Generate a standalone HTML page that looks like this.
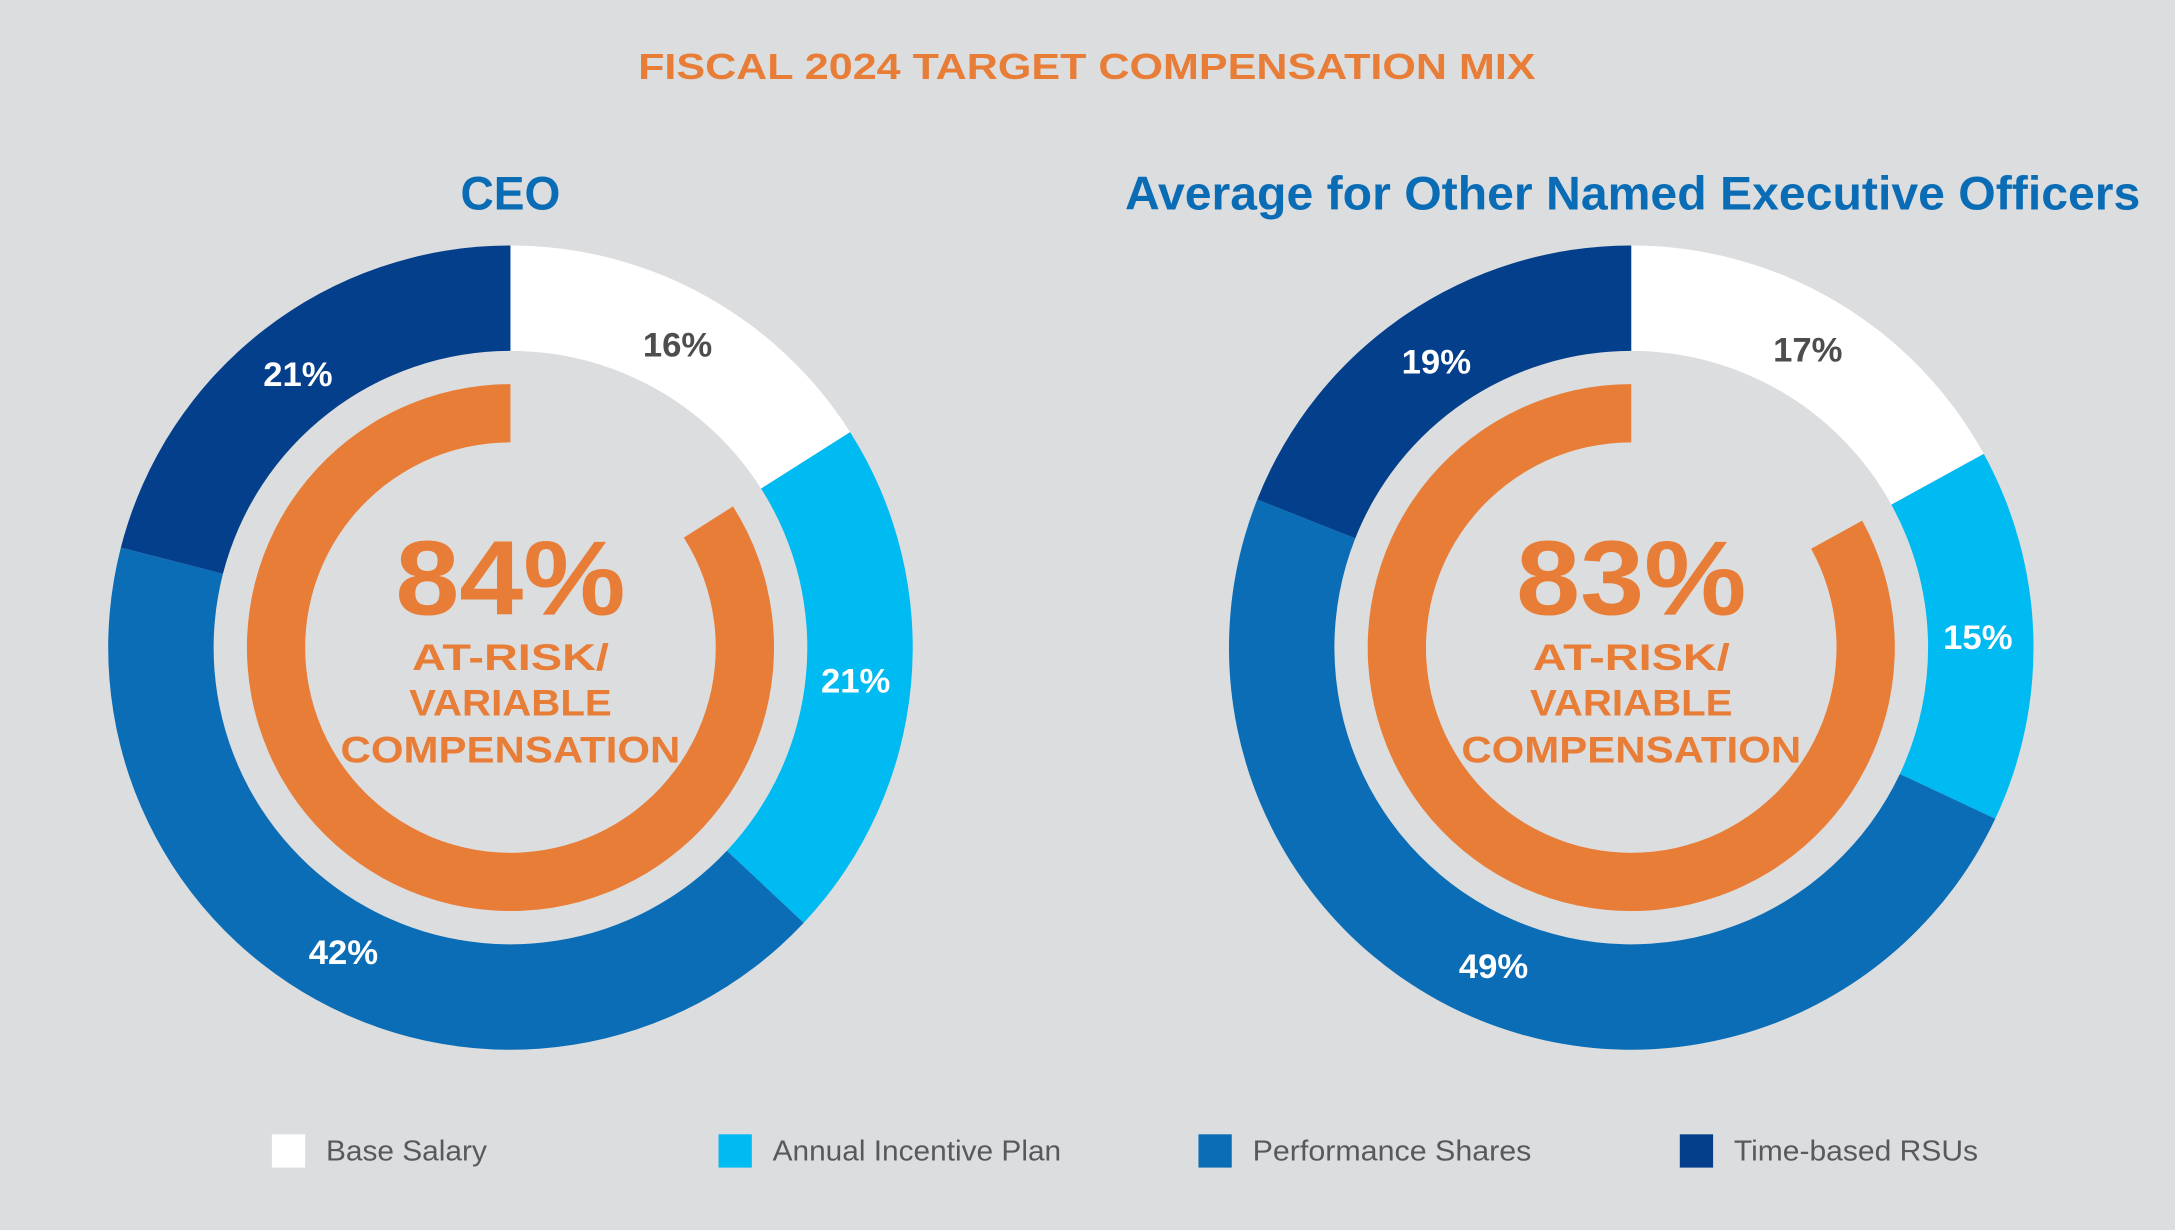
<!DOCTYPE html>
<html><head><meta charset="utf-8"><style>
html,body{margin:0;padding:0;background:#DCDDDE;}
svg{display:block;font-family:"Liberation Sans",Arial,sans-serif;}
</style></head><body>
<svg id="chart" width="2175" height="1230" viewBox="0 0 1568 887" preserveAspectRatio="none" xmlns="http://www.w3.org/2000/svg">
<rect width="1568" height="887" fill="#DCDDDE"/>
<text x="460" y="57" font-size="26" font-weight="bold" fill="#E87D37" textLength="647" lengthAdjust="spacingAndGlyphs">FISCAL 2024 TARGET COMPENSATION MIX</text>
<text x="332" y="151" font-size="34" font-weight="bold" fill="#0A6CB5" textLength="72" lengthAdjust="spacingAndGlyphs">CEO</text>
<text x="811" y="151" font-size="34" font-weight="bold" fill="#0A6CB5" textLength="732" lengthAdjust="spacingAndGlyphs">Average for Other Named Executive Officers</text>
<g id="donuts"></g>
<g id="legend"></g>
</svg>
<script>
const categories = ["Base Salary","Annual Incentive Plan","Performance Shares","Time-based RSUs"];
const ceoValues = [16,21,42,21];
const neoValues = [17,15,49,19];
const atRisk = [84,83];
const colors = ["#FFFFFF","#00BAF2","#0A6DB6","#043F8C"];
const labelColors = ["#4D4D4F","#FFFFFF","#FFFFFF","#FFFFFF"];
const NS="http://www.w3.org/2000/svg";
const g=document.getElementById('donuts');
function pt(cx,cy,r,a){const t=a*Math.PI/180;return [cx+r*Math.sin(t),cy-r*Math.cos(t)];}
function arcPath(cx,cy,r0,r1,a0,a1){
  const large=(a1-a0)>180?1:0;
  const p1=pt(cx,cy,r1,a0),p2=pt(cx,cy,r1,a1),p3=pt(cx,cy,r0,a1),p4=pt(cx,cy,r0,a0);
  return `M${p1} A${r1},${r1} 0 ${large} 1 ${p2} L${p3} A${r0},${r0} 0 ${large} 0 ${p4} Z`;
}
function donut(cx,vals,risk,name){
  const cy=467;let acc=0;const tot=vals.reduce((a,b)=>a+b,0);
  vals.forEach((v,i)=>{
    const a0=acc/tot*360,a1=(acc+v)/tot*360;acc+=v;
    const p=document.createElementNS(NS,'path');
    p.setAttribute('d',arcPath(cx,cy,214,290,a0,a1));p.setAttribute('fill',colors[i]);
    
    
    g.appendChild(p);
    const m=pt(cx,cy,250,(a0+a1)/2);
    const t=document.createElementNS(NS,'text');
    t.setAttribute('x',m[0]);t.setAttribute('y',m[1]+9);t.setAttribute('text-anchor','middle');
    t.setAttribute('font-size','25');t.setAttribute('font-weight','bold');t.setAttribute('fill',labelColors[i]);
    t.textContent=v+'%';
    
    
    g.appendChild(t);
  });
  const ra=document.createElementNS(NS,'path');
  ra.setAttribute('d',arcPath(cx,cy,148,190,360-risk/100*360,360));
  ra.setAttribute('fill','#E87D37');
  
  
  g.appendChild(ra);
  const lines=[[risk+'%',76,443,166],['AT-RISK/',27,483,142],['VARIABLE',27,516,146],['COMPENSATION',27,550,245]];
  lines.forEach((l,j)=>{
    const t=document.createElementNS(NS,'text');
    t.setAttribute('x',cx-l[3]/2);t.setAttribute('y',l[2]);
    t.setAttribute('font-size',l[1]);t.setAttribute('font-weight','bold');t.setAttribute('fill','#E87D37');
    t.setAttribute('textLength',l[3]);t.setAttribute('lengthAdjust','spacingAndGlyphs');
    t.textContent=l[0];
    
    
    g.appendChild(t);
  });
}
donut(368,ceoValues,atRisk[0],'ceo');
donut(1176,neoValues,atRisk[1],'neo');
const lg=document.getElementById('legend');
const lx=[196,518,864,1211];
const lw=[116,208,201,176];
categories.forEach((c,i)=>{
  const r=document.createElementNS(NS,'rect');
  r.setAttribute('x',lx[i]);r.setAttribute('y',818);r.setAttribute('width',24);r.setAttribute('height',24);
  r.setAttribute('fill',colors[i]);
  
  
  lg.appendChild(r);
  const t=document.createElementNS(NS,'text');
  t.setAttribute('x',lx[i]+39);t.setAttribute('y',837);t.setAttribute('font-size','21');t.setAttribute('fill','#58595B');
  t.setAttribute('textLength',lw[i]);t.setAttribute('lengthAdjust','spacingAndGlyphs');
  t.textContent=c;
  
  
  lg.appendChild(t);
});
</script>
</body></html>
